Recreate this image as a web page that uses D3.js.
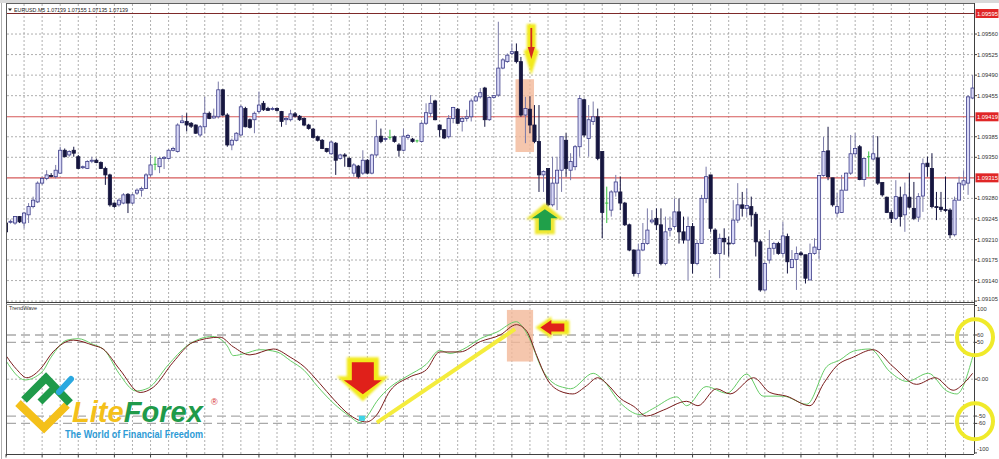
<!DOCTYPE html>
<html><head><meta charset="utf-8">
<script src="https://cdn.jsdelivr.net/npm/d3@7"></script>
<style>
html,body{margin:0;padding:0;background:#fff;overflow:hidden;}
svg{display:block;font-family:"Liberation Sans","DejaVu Sans",sans-serif;}
</style></head><body>
<svg id="c" width="999" height="459"></svg>
<script>
// ---------- data ----------
const symbolHeader = "EURUSD.M5  1.07139 1.07155 1.07135 1.07139";
const indicatorName = "TrendWave";
const priceTicks = [1.09560,1.09525,1.09490,1.09455,1.09385,1.09350,1.09280,1.09245,1.09210,1.09175,1.09140,1.09105];
const priceLines = [1.09595,1.09419,1.09315];
const oscTicks = [100,60,50,0,-50,-60,-100];
const oscTickLabels = ["100","60","50","0.00","-50","-60","-100"];
const oscLevels = [60,50,-50,-60];

const openP = [1.09238,1.09240,1.09238,1.09249,1.09238,1.09252,1.09266,1.09274,1.09306,1.09314,
1.09319,1.09317,1.09323,1.09362,1.09354,1.09362,1.09351,1.09333,1.09331,1.09344,
1.09345,1.09341,1.09331,1.09320,1.09272,1.09269,1.09272,1.09287,1.09272,1.09289,
1.09294,1.09297,1.09320,1.09338,1.09334,1.09348,1.09348,1.09362,1.09360,1.09409,
1.09411,1.09408,1.09405,1.09388,1.09402,1.09425,1.09417,1.09419,1.09465,1.09422,
1.09371,1.09379,1.09388,1.09433,1.09414,1.09414,1.09428,1.09442,1.09433,1.09432,
1.09433,1.09428,1.09414,1.09414,1.09424,1.09420,1.09416,1.09405,1.09398,1.09385,
1.09379,1.09365,1.09356,1.09374,1.09348,1.09354,1.09348,1.09323,1.09335,1.09323,
1.09345,1.09323,1.09354,1.09386,1.09381,1.09384,1.09385,1.09371,1.09362,1.09384,
1.09381,1.09378,1.09377,1.09408,1.09425,1.09446,1.09405,1.09397,1.09385,1.09416,
1.09432,1.09411,1.09416,1.09419,1.09446,1.09453,1.09468,1.09414,1.09452,1.09456,
1.09502,1.09513,1.09527,1.09530,1.09513,1.09422,1.09432,1.09405,1.09377,1.09320,
1.09331,1.09269,1.09306,1.09328,1.09379,1.09328,1.09334,1.09368,1.09448,1.09382,
1.09411,1.09419,1.09360,1.09272,1.09260,1.09291,1.09291,1.09272,1.09235,1.09192,
1.09152,1.09192,1.09203,1.09240,1.09246,1.09235,1.09169,1.09226,1.09232,1.09257,
1.09223,1.09209,1.09232,1.09169,1.09203,1.09280,1.09320,1.09226,1.09186,1.09212,
1.09204,1.09203,1.09243,1.09269,1.09263,1.09266,1.09253,1.09206,1.09124,1.09175,
1.09195,1.09203,1.09186,1.09215,1.09162,1.09176,1.09187,1.09184,1.09141,1.09186,
1.09193,1.09319,1.09361,1.09315,1.09255,1.09256,1.09294,1.09323,1.09356,1.09368,
1.09312,1.09351,1.09347,1.09349,1.09307,1.09282,1.09256,1.09246,1.09282,1.09252,
1.09282,1.09263,1.09248,1.09284,1.09340,1.09331,1.09266,1.09265,1.09261,1.09260,
1.09218,1.09277,1.09303,1.09306,1.09451];

const highP = [1.09242,1.09244,1.09250,1.09250,1.09257,1.09272,1.09283,1.09309,1.09317,1.09328,
1.09323,1.09337,1.09368,1.09365,1.09362,1.09368,1.09354,1.09336,1.09345,1.09351,
1.09348,1.09343,1.09334,1.09322,1.09273,1.09280,1.09289,1.09289,1.09288,1.09297,
1.09300,1.09323,1.09354,1.09351,1.09351,1.09352,1.09364,1.09368,1.09408,1.09422,
1.09425,1.09410,1.09406,1.09405,1.09453,1.09428,1.09433,1.09479,1.09466,1.09425,
1.09382,1.09393,1.09439,1.09436,1.09416,1.09428,1.09462,1.09446,1.09436,1.09436,
1.09435,1.09429,1.09419,1.09431,1.09427,1.09422,1.09418,1.09407,1.09400,1.09387,
1.09381,1.09366,1.09378,1.09376,1.09356,1.09357,1.09350,1.09340,1.09337,1.09362,
1.09347,1.09356,1.09414,1.09399,1.09384,1.09397,1.09387,1.09374,1.09399,1.09390,
1.09383,1.09380,1.09410,1.09442,1.09456,1.09448,1.09406,1.09398,1.09422,1.09436,
1.09434,1.09419,1.09431,1.09450,1.09456,1.09468,1.09470,1.09454,1.09456,1.09581,
1.09519,1.09527,1.09544,1.09544,1.09521,1.09453,1.09454,1.09439,1.09439,1.09328,
1.09331,1.09351,1.09351,1.09385,1.09391,1.09357,1.09371,1.09456,1.09450,1.09439,
1.09445,1.09433,1.09360,1.09300,1.09294,1.09320,1.09317,1.09274,1.09237,1.09193,
1.09203,1.09238,1.09263,1.09260,1.09263,1.09263,1.09249,1.09249,1.09280,1.09280,
1.09249,1.09249,1.09238,1.09209,1.09286,1.09334,1.09320,1.09229,1.09220,1.09229,
1.09215,1.09277,1.09306,1.09291,1.09297,1.09283,1.09257,1.09209,1.09172,1.09226,
1.09206,1.09206,1.09240,1.09220,1.09192,1.09198,1.09190,1.09184,1.09203,1.09212,
1.09320,1.09385,1.09402,1.09315,1.09289,1.09320,1.09324,1.09388,1.09391,1.09371,
1.09348,1.09360,1.09388,1.09386,1.09307,1.09283,1.09260,1.09311,1.09300,1.09307,
1.09323,1.09308,1.09289,1.09348,1.09351,1.09357,1.09291,1.09291,1.09317,1.09263,
1.09283,1.09317,1.09328,1.09456,1.09490];

const lowP = [1.09220,1.09237,1.09235,1.09238,1.09229,1.09238,1.09263,1.09272,1.09303,1.09311,
1.09316,1.09314,1.09322,1.09350,1.09351,1.09351,1.09330,1.09330,1.09330,1.09340,
1.09340,1.09330,1.09303,1.09266,1.09264,1.09266,1.09270,1.09255,1.09270,1.09286,
1.09283,1.09296,1.09317,1.09328,1.09323,1.09330,1.09346,1.09360,1.09358,1.09408,
1.09394,1.09400,1.09390,1.09385,1.09391,1.09415,1.09416,1.09416,1.09420,1.09368,
1.09362,1.09377,1.09386,1.09401,1.09399,1.09391,1.09425,1.09429,1.09429,1.09430,
1.09428,1.09402,1.09405,1.09411,1.09418,1.09412,1.09403,1.09397,1.09382,1.09377,
1.09364,1.09358,1.09354,1.09320,1.09346,1.09334,1.09333,1.09317,1.09314,1.09320,
1.09321,1.09321,1.09351,1.09374,1.09377,1.09380,1.09375,1.09351,1.09360,1.09380,
1.09375,1.09375,1.09375,1.09405,1.09419,1.09413,1.09385,1.09381,1.09382,1.09408,
1.09407,1.09394,1.09411,1.09411,1.09445,1.09450,1.09402,1.09412,1.09450,1.09453,
1.09500,1.09511,1.09524,1.09510,1.09419,1.09374,1.09391,1.09374,1.09291,1.09291,
1.09266,1.09266,1.09260,1.09291,1.09317,1.09311,1.09328,1.09351,1.09385,1.09351,
1.09405,1.09345,1.09212,1.09238,1.09249,1.09283,1.09260,1.09233,1.09190,1.09147,
1.09147,1.09190,1.09201,1.09237,1.09226,1.09166,1.09166,1.09215,1.09229,1.09203,
1.09203,1.09141,1.09152,1.09166,1.09203,1.09272,1.09223,1.09184,1.09144,1.09184,
1.09181,1.09201,1.09238,1.09249,1.09249,1.09232,1.09181,1.09121,1.09121,1.09169,
1.09184,1.09184,1.09181,1.09152,1.09161,1.09124,1.09182,1.09135,1.09141,1.09184,
1.09176,1.09317,1.09311,1.09266,1.09249,1.09255,1.09294,1.09320,1.09351,1.09311,
1.09300,1.09317,1.09345,1.09303,1.09283,1.09255,1.09238,1.09243,1.09232,1.09223,
1.09263,1.09243,1.09240,1.09257,1.09317,1.09263,1.09243,1.09257,1.09257,1.09212,
1.09215,1.09277,1.09294,1.09286,1.09449];

const closeP = [1.09223,1.09241,1.09249,1.09240,1.09255,1.09266,1.09277,1.09306,1.09314,1.09320,
1.09318,1.09328,1.09362,1.09351,1.09360,1.09357,1.09331,1.09334,1.09343,1.09345,
1.09341,1.09331,1.09320,1.09269,1.09266,1.09277,1.09286,1.09272,1.09286,1.09294,
1.09297,1.09320,1.09337,1.09338,1.09348,1.09350,1.09362,1.09365,1.09405,1.09412,
1.09405,1.09403,1.09391,1.09402,1.09425,1.09416,1.09420,1.09465,1.09422,1.09371,
1.09379,1.09391,1.09436,1.09402,1.09401,1.09425,1.09439,1.09431,1.09430,1.09433,
1.09430,1.09411,1.09416,1.09424,1.09420,1.09414,1.09405,1.09399,1.09384,1.09379,
1.09365,1.09360,1.09376,1.09345,1.09354,1.09352,1.09334,1.09337,1.09317,1.09345,
1.09323,1.09354,1.09385,1.09377,1.09382,1.09384,1.09377,1.09362,1.09386,1.09387,
1.09377,1.09378,1.09408,1.09426,1.09442,1.09414,1.09397,1.09383,1.09416,1.09435,
1.09408,1.09416,1.09419,1.09446,1.09453,1.09460,1.09414,1.09452,1.09455,1.09502,
1.09516,1.09524,1.09530,1.09513,1.09422,1.09433,1.09405,1.09377,1.09320,1.09326,
1.09269,1.09306,1.09328,1.09385,1.09331,1.09343,1.09368,1.09450,1.09388,1.09414,
1.09419,1.09348,1.09256,1.09272,1.09291,1.09308,1.09272,1.09235,1.09192,1.09152,
1.09192,1.09203,1.09226,1.09243,1.09235,1.09169,1.09223,1.09229,1.09257,1.09223,
1.09209,1.09232,1.09169,1.09203,1.09280,1.09317,1.09229,1.09186,1.09212,1.09206,
1.09203,1.09243,1.09269,1.09263,1.09268,1.09252,1.09206,1.09124,1.09169,1.09195,
1.09203,1.09186,1.09216,1.09172,1.09176,1.09186,1.09184,1.09144,1.09186,1.09197,
1.09319,1.09360,1.09317,1.09269,1.09266,1.09294,1.09323,1.09356,1.09365,1.09312,
1.09348,1.09351,1.09356,1.09306,1.09286,1.09256,1.09246,1.09283,1.09249,1.09286,
1.09265,1.09246,1.09283,1.09339,1.09334,1.09266,1.09265,1.09261,1.09260,1.09218,
1.09277,1.09306,1.09310,1.09453,1.09468];

// TrendWave oscillator: slow (dark red) and fast (green) lines, read at bar positions
const slowIdx = [0,2.4,4.6,7.5,10.4,14.9,19.3,21.5,25.2,29.7,32.6,37,41.4,47.4,50.3,54,59.2,62.9,66,69.5,72.5,76.2,79.8,82,85,89.4,93.1,96,100.5,105,109.4,113,115.3,117.5,119.7,122.6,125.5,128.5,131,133,136,139,141.8,145.5,150.7,153.2,157.3,160.3,165.5,169.1,172.8,178,181,183.9,187.6,192,196.4,201.6,205.7,209.7,212,214];
const slowVal = [32,13,2,13,37,53,46,41,13,-18,-11,23,50,57,44,33,41,30,17,-6,-27,-49,-58,-49,-16,3,13,37,37,51,60,74,65,32,1,-16,-20,-9,2,-6,-26,-37,-50,-42,-30,-36,-13,-20,2,-18,-23,-36,-6,18,30,40,17,-7,2,-15,-6,8];
const fastIdx = [0,4.2,8,10,13.5,16,19,22,25,28.8,31.5,36,40,45.8,49,50.3,53,56.2,60,63,66,69,72.4,76,78.4,80,82.1,85,88.8,93,96,98.3,101,105,108.7,113,114.5,115.5,119,120.9,124,125,130,132,136,140.4,143.2,148.5,150.7,155,159.6,164,167.6,172,177.3,181.7,184.6,187.6,191.3,195.7,199.5,204.2,208.3,210.5,214];
const fastVal = [25,-1,10,30,53,55,48,38,8,-16,-12,20,45,58,45,32,35,40,37,25,12,-10,-32,-50,-59,-50,-30,-11,4,20,39,35,40,55,64,78,70,60,10,-4,-12,-13,8,0,-32,-48,-40,-24,-36,-10,-19,7,-23,-23,-34,17,26,38,41,10,-3,8,-16,-20,30];

// annotation anchors (bar index / price / oscillator value)
const mainBox = {i0:112.8, i1:116.9, p0:1.09359, p1:1.09483};
const downArrowMain = {i:116.3, p:1.09492};
const upArrowMain = {i:119.3, p:1.09270};
const subBox = {i0:110.9, i1:116.7, v0:24, v1:94};
const downArrowSub = {i:79, v:-19};
const cyanMark = {i:78.8, v:-53};
const trendSeg = {i0:82.1, v0:-59, i1:112.7, v1:68};
const leftArrowSub = {i:118.3, v:70};
const circleMarks = [57,-57];

// ---------- layout ----------
const L = 7, R = 974;
const mainTop = 4, mainBot = 302, subTop = 304, subBot = 454;
const svg = d3.select("#c");
const x = d3.scaleLinear().domain([0,214]).range([6,972.6]);
const y = d3.scaleLinear().domain([1.09105,1.09595]).range([301.1,13.5]);
const o = d3.scaleLinear().domain([-100,100]).range([452.9,305.5]);

const defs = svg.append("defs");
defs.append("clipPath").attr("id","cm").append("rect").attr("x",L).attr("y",mainTop).attr("width",R-L).attr("height",mainBot-mainTop);
defs.append("clipPath").attr("id","cs").append("rect").attr("x",L).attr("y",subTop).attr("width",R-L).attr("height",subBot-subTop);
defs.append("filter").attr("id","glow").attr("x","-30%").attr("y","-30%").attr("width","160%").attr("height","160%")
  .append("feGaussianBlur").attr("stdDeviation",1.3);

svg.append("rect").attr("width",999).attr("height",459).attr("fill","#fff");
svg.append("rect").attr("x",0).attr("y",0).attr("width",999).attr("height",3).attr("fill","#d9d9d9");

const gridIdx = d3.range(0,215,4);
const gridStyle = s => s.attr("stroke","#9a9a9a").attr("stroke-width",0.8).attr("stroke-dasharray","2,2");

// ---------- main panel ----------
const gm = svg.append("g").attr("clip-path","url(#cm)");
gm.selectAll("line.vg").data(gridIdx).join("line").attr("class","vg")
  .attr("x1",d=>x(d)).attr("x2",d=>x(d)).attr("y1",mainTop).attr("y2",mainBot).call(gridStyle);
gm.selectAll("line.hg").data(priceTicks).join("line").attr("class","hg")
  .attr("x1",L).attr("x2",R).attr("y1",d=>y(d)).attr("y2",d=>y(d)).call(gridStyle);

gm.append("rect").attr("x",x(mainBox.i0)).attr("width",x(mainBox.i1)-x(mainBox.i0))
  .attr("y",y(mainBox.p1)).attr("height",y(mainBox.p0)-y(mainBox.p1))
  .attr("fill","#f2b899").attr("opacity",0.8);

gm.selectAll("line.pl").data(priceLines).join("line").attr("class","pl")
  .attr("x1",L).attr("x2",R).attr("y1",d=>y(d)).attr("y2",d=>y(d))
  .attr("stroke",(d,i)=>i===0?"#7e2a2a":"#d65a5a").attr("stroke-width",1.1);

const candles = openP.map((v,i)=>({i,o:v,h:highP[i],l:lowP[i],c:closeP[i]}));
gm.selectAll("line.wick").data(candles).join("line").attr("class","wick")
  .attr("x1",d=>x(d.i)).attr("x2",d=>x(d.i)).attr("y1",d=>y(d.h)).attr("y2",d=>y(d.l))
  .attr("stroke",d=>d.o===d.c?"#38c040":(d.c>d.o?"#7a7aa8":"#151540")).attr("stroke-width",1);
gm.selectAll("rect.body").data(candles.filter(d=>d.o!==d.c)).join("rect").attr("class","body")
  .attr("x",d=>x(d.i)-1.6).attr("width",3.2)
  .attr("y",d=>y(Math.max(d.o,d.c))).attr("height",d=>Math.max(1,Math.abs(y(d.o)-y(d.c))))
  .attr("fill",d=>d.c>d.o?"#d9d9f7":"#16163f")
  .attr("stroke",d=>d.c>d.o?"#3c3c88":"#16163f").attr("stroke-width",0.8);
gm.selectAll("line.doji").data(candles.filter(d=>d.o===d.c)).join("line").attr("class","doji")
  .attr("x1",d=>x(d.i)-1.6).attr("x2",d=>x(d.i)+1.6).attr("y1",d=>y(d.o)).attr("y2",d=>y(d.o))
  .attr("stroke","#38c040").attr("stroke-width",1);

// main arrows
const da = gm.append("g").attr("transform",`translate(${x(downArrowMain.i)},${y(downArrowMain.p)})`);
da.append("polygon").attr("points","-4.5,-50 4.5,-50 4.5,-25 7.5,-23 0,1 -7.5,-23 -4.5,-25")
  .attr("fill","#f2ea1c").attr("filter","url(#glow)");
da.append("line").attr("x1",0).attr("x2",0).attr("y1",-46).attr("y2",-22).attr("stroke","#d42a1e").attr("stroke-width",1.8);
da.append("polygon").attr("points","-3.5,-27 3.5,-27 0,-15").attr("fill","#d42a1e");

const ua = gm.append("g").attr("transform",`translate(${x(upArrowMain.i)},${y(upArrowMain.p)})`);
ua.append("polygon").attr("points","0,-1 19,15 10,15 10,30 -10,30 -10,15 -19,15")
  .attr("fill","#efe830").attr("filter","url(#glow)");
ua.append("polygon").attr("points","0,5 13,14 6,14 6,26 -6,26 -6,14 -13,14").attr("fill","#20a04a");

// ---------- sub panel ----------
const gs = svg.append("g").attr("clip-path","url(#cs)");
gs.selectAll("line.vg").data(gridIdx).join("line").attr("class","vg")
  .attr("x1",d=>x(d)).attr("x2",d=>x(d)).attr("y1",subTop).attr("y2",subBot).call(gridStyle);
gs.append("line").attr("x1",L).attr("x2",R).attr("y1",o(0)).attr("y2",o(0)).call(gridStyle);
gs.selectAll("line.lvl").data(oscLevels).join("line").attr("class","lvl")
  .attr("x1",L).attr("x2",R).attr("y1",d=>o(d)).attr("y2",d=>o(d))
  .attr("stroke","#a9a9a9").attr("stroke-width",1.3).attr("stroke-dasharray","9,5");

gs.append("rect").attr("x",x(subBox.i0)).attr("width",x(subBox.i1)-x(subBox.i0))
  .attr("y",o(subBox.v1)).attr("height",o(subBox.v0)-o(subBox.v1))
  .attr("fill","#f2b899").attr("opacity",0.8);

const lineGen = (idx) => d3.line().x((d,k)=>x(idx[k])).y(d=>o(d)).curve(d3.curveMonotoneX);
gs.append("path").datum(fastVal).attr("d",lineGen(fastIdx)).attr("fill","none").attr("stroke","#66cc66").attr("stroke-width",1);
gs.append("path").datum(slowVal).attr("d",lineGen(slowIdx)).attr("fill","none").attr("stroke","#7a1c1c").attr("stroke-width",1);

gs.append("line").attr("x1",x(trendSeg.i0)).attr("y1",o(trendSeg.v0)).attr("x2",x(trendSeg.i1)).attr("y2",o(trendSeg.v1))
  .attr("stroke","#f4ec3c").attr("stroke-width",4);
gs.append("rect").attr("x",x(cyanMark.i)-3).attr("y",o(cyanMark.v)-2.5).attr("width",6).attr("height",5).attr("fill","#3fd4e6");

const sa = gs.append("g").attr("transform",`translate(${x(downArrowSub.i)},${o(downArrowSub.v)})`);
sa.append("polygon").attr("points","-16,-36 16,-36 16,-17 26,-17 0,8 -26,-17 -16,-17")
  .attr("fill","#f2ea1c").attr("filter","url(#glow)");
sa.append("polygon").attr("points","-11,-31 11,-31 11,-13 19,-13 0,1 -19,-13 -11,-13").attr("fill","#e0201a");

const la = gs.append("g").attr("transform",`translate(${x(leftArrowSub.i)},${o(leftArrowSub.v)})`);
la.append("polygon").attr("points","-5,0 11,-11 11,-7 29,-7 29,7 11,7 11,11")
  .attr("fill","#f2ea1c").attr("filter","url(#glow)");
la.append("polygon").attr("points","0,0 11,-7.5 11,-4 24,-4 24,4 11,4 11,7.5").attr("fill","#e0201a");

// ---------- frame ----------
svg.append("line").attr("x1",1.5).attr("x2",1.5).attr("y1",3).attr("y2",459).attr("stroke","#b0b0b0");
svg.append("line").attr("x1",6.5).attr("x2",6.5).attr("y1",3).attr("y2",456).attr("stroke","#606060");
svg.append("line").attr("x1",6).attr("x2",R).attr("y1",3.5).attr("y2",3.5).attr("stroke","#606060");
svg.append("line").attr("x1",R+0.5).attr("x2",R+0.5).attr("y1",3).attr("y2",subBot).attr("stroke","#404040");
svg.append("line").attr("x1",6).attr("x2",R).attr("y1",302.5).attr("y2",302.5).attr("stroke","#404040");
svg.append("line").attr("x1",6).attr("x2",R).attr("y1",304.5).attr("y2",304.5).attr("stroke","#8a8a8a");
svg.append("line").attr("x1",6).attr("x2",R).attr("y1",subBot+0.5).attr("y2",subBot+0.5).attr("stroke","#404040");
svg.selectAll("line.bt").data(d3.range(0,215,8)).join("line").attr("class","bt")
  .attr("x1",d=>x(d)).attr("x2",d=>x(d)).attr("y1",subBot).attr("y2",subBot+3.5).attr("stroke","#404040");

// header
svg.append("polygon").attr("points","8,8.5 12,8.5 10,11").attr("fill","#222");
svg.append("text").attr("x",14).attr("y",11.5).attr("font-size",5.8).attr("fill","#222")
  .attr("textLength",114).attr("lengthAdjust","spacingAndGlyphs").text(symbolHeader);
svg.append("text").attr("x",9).attr("y",309.5).attr("font-size",5.5).attr("fill","#333").text(indicatorName);

// ---------- right axes ----------
const ax = svg.append("g");
ax.selectAll("line.pt").data(priceTicks).join("line").attr("class","pt")
  .attr("x1",R).attr("x2",R+3).attr("y1",d=>y(d)).attr("y2",d=>y(d)).attr("stroke","#404040");
ax.selectAll("text.pt").data(priceTicks).join("text").attr("class","pt")
  .attr("x",977).attr("y",d=>Math.min(y(d),299)).attr("dy","0.35em").attr("font-size",5.8).attr("fill","#333")
  .text(d=>d.toFixed(5));
ax.selectAll("rect.pl").data(priceLines).join("rect").attr("class","pl")
  .attr("x",975.5).attr("y",d=>y(d)-4.5).attr("width",23).attr("height",9).attr("fill","#e02626");
ax.selectAll("text.pl").data(priceLines).join("text").attr("class","pl")
  .attr("x",977).attr("y",d=>y(d)).attr("dy","0.35em").attr("font-size",5.8).attr("fill","#fff")
  .text(d=>d.toFixed(5));

ax.selectAll("circle.mk").data(circleMarks).join("circle").attr("class","mk")
  .attr("cx",975).attr("cy",d=>o(d)).attr("r",18).attr("fill","none").attr("stroke","#f0ea2a").attr("stroke-width",4);
ax.selectAll("line.ot").data(oscTicks).join("line").attr("class","ot")
  .attr("x1",R).attr("x2",R+3).attr("y1",d=>o(d)).attr("y2",d=>o(d)).attr("stroke","#404040");
ax.selectAll("text.ot").data(oscTicks).join("text").attr("class","ot")
  .attr("x",977).attr("y",d=>Math.max(309,Math.min(449,o(d)))).attr("dy","0.35em").attr("font-size",5.8).attr("fill","#333")
  .text((d,i)=>oscTickLabels[i]);

// ---------- logo ----------
const lg = svg.append("g");
lg.append("polyline").attr("points","18,403 44,428 67,405").attr("fill","none").attr("stroke","#f4c01a").attr("stroke-width",8).attr("stroke-linejoin","miter");
lg.append("polyline").attr("points","24,400 46,378 70,403").attr("fill","none").attr("stroke","#1f9a4a").attr("stroke-width",8).attr("stroke-linejoin","miter");
lg.append("line").attr("x1",40).attr("y1",402).attr("x2",53).attr("y2",389).attr("stroke","#1f9a4a").attr("stroke-width",7);
lg.append("line").attr("x1",59).attr("y1",392).attr("x2",71).attr("y2",379).attr("stroke","#2aa8e0").attr("stroke-width",6).attr("stroke-linecap","round");
const lt = lg.append("text").attr("x",72).attr("y",422).attr("font-size",30).attr("font-weight","bold").attr("font-style","italic")
  .attr("font-family","'Liberation Sans',Arial,sans-serif").attr("textLength",131).attr("lengthAdjust","spacingAndGlyphs")
  .attr("stroke","#fff").attr("stroke-width",0.6).attr("paint-order","stroke");
lt.append("tspan").attr("fill","#f4c01a").text("Lite");
lt.append("tspan").attr("fill","#1f9a4a").text("Forex");
lg.append("text").attr("x",211).attr("y",405).attr("font-size",9).attr("fill","#d63030").text("®");
lg.append("text").attr("x",65).attr("y",437.5).attr("font-size",10).attr("font-weight","bold").attr("fill","#2e9bd6")
  .attr("font-family","'Liberation Sans',Arial,sans-serif").attr("textLength",138).attr("lengthAdjust","spacingAndGlyphs")
  .text("The World of Financial Freedom");
</script>
</body></html>
